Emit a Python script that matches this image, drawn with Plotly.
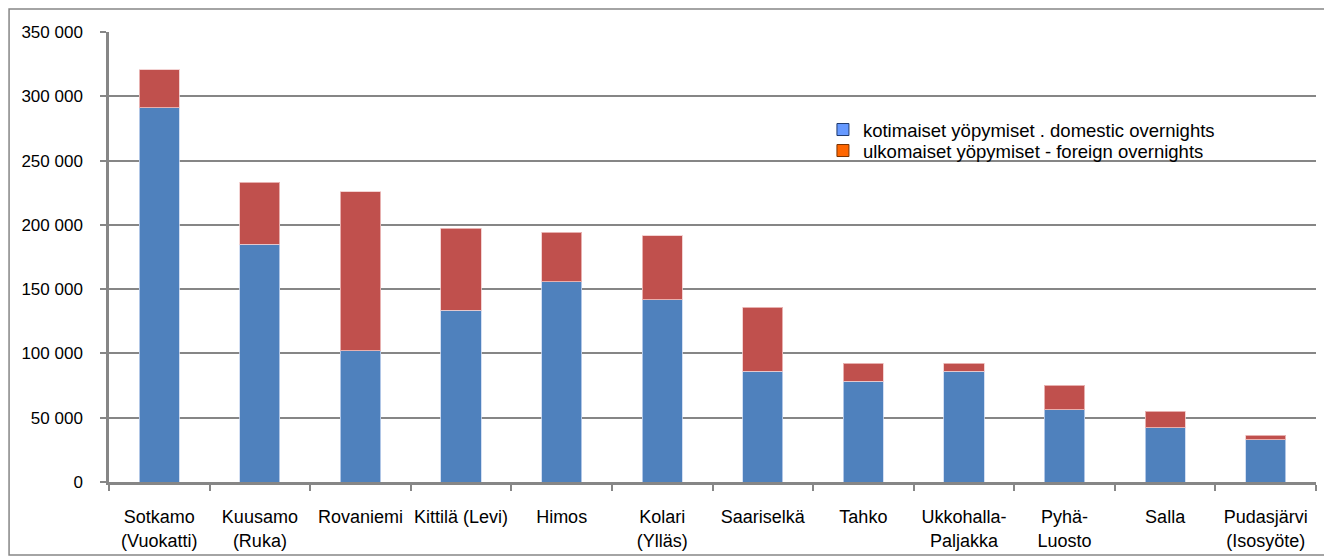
import plotly.graph_objects as go

categories = ["Sotkamo<br>(Vuokatti)", "Kuusamo<br>(Ruka)", "Rovaniemi", "Kittilä (Levi)", "Himos",
              "Kolari<br>(Ylläs)", "Saariselkä", "Tahko", "Ukkohalla-<br>Paljakka", "Pyhä-<br>Luosto",
              "Salla", "Pudasjärvi<br>(Isosyöte)"]
domestic = [291000, 185000, 102000, 133500, 155600, 141600, 86100, 78400, 86100, 56300, 42300, 33000]
foreign = [29800, 48000, 123600, 63800, 38600, 49800, 49900, 14000, 6300, 19000, 12700, 3300]
domestic_name = "kotimaiset yöpymiset . domestic overnights"
foreign_name = "ulkomaiset yöpymiset - foreign overnights"
y_ticks = [0, 50000, 100000, 150000, 200000, 250000, 300000, 350000]

FONT = "Liberation Sans, Arial, sans-serif"
GREY = "#868686"

fig = go.Figure()
fig.add_trace(go.Bar(x=categories, y=domestic, name=domestic_name, showlegend=False,
                     marker=dict(color="#4F81BD", line=dict(color="rgba(200,215,240,0.8)", width=1))))
fig.add_trace(go.Bar(x=categories, y=foreign, name=foreign_name, showlegend=False,
                     marker=dict(color="#C0504D", line=dict(color="rgba(240,200,200,0.8)", width=1))))
# legend entries (swatch colours as in the reference legend)
fig.add_trace(go.Bar(x=[None], y=[None], name=domestic_name, legend="legend",
                     marker=dict(color="#6699FF", line=dict(color="#1F3A6E", width=1))))
fig.add_trace(go.Bar(x=[None], y=[None], name=foreign_name, legend="legend2",
                     marker=dict(color="#FF6600", line=dict(color="#7A3300", width=1))))

leg_common = dict(xanchor="left", yanchor="middle", font=dict(size=18.5),
                  bgcolor="rgba(0,0,0,0)", borderwidth=0)

# page has an 8px body margin; figure coordinates are offset accordingly
fig.update_layout(
    width=1324, height=552,
    margin=dict(l=101, r=16, t=24, b=78, autoexpand=False),
    barmode="stack", bargap=0.6,
    plot_bgcolor="white", paper_bgcolor="white",
    separators=", ",
    font=dict(family=FONT, size=17, color="black"),
    legend=dict(x=0.5915, y=(474 - 122) / 450, **leg_common),
    legend2=dict(x=0.5915, y=(474 - 143) / 450, **leg_common),
    xaxis=dict(type="category", tickson="boundaries", ticks="outside", ticklen=6, tickwidth=1.5,
               tickcolor=GREY, showline=True, linecolor=GREY, linewidth=2.5, showgrid=False,
               tickangle=0, automargin=False,
               tickfont=dict(size=18), ticklabelstandoff=17, fixedrange=True),
    yaxis=dict(range=[0, 350000], tickvals=y_ticks, tickformat=",d", ticks="outside", ticklen=6,
               tickwidth=2, tickcolor=GREY, showline=True, linecolor=GREY, linewidth=2.5,
               showgrid=True, gridcolor=GREY, gridwidth=2, zeroline=False, automargin=False,
               tickfont=dict(size=17), ticklabelstandoff=14, fixedrange=True),
    shapes=[dict(type="rect", xref="paper", yref="paper", x0=-0.0828, x1=1.0124, y0=-0.1622, y1=1.0511,
                 line=dict(color=GREY, width=1.5), layer="below")],
)

fig.write_html("out.html")
